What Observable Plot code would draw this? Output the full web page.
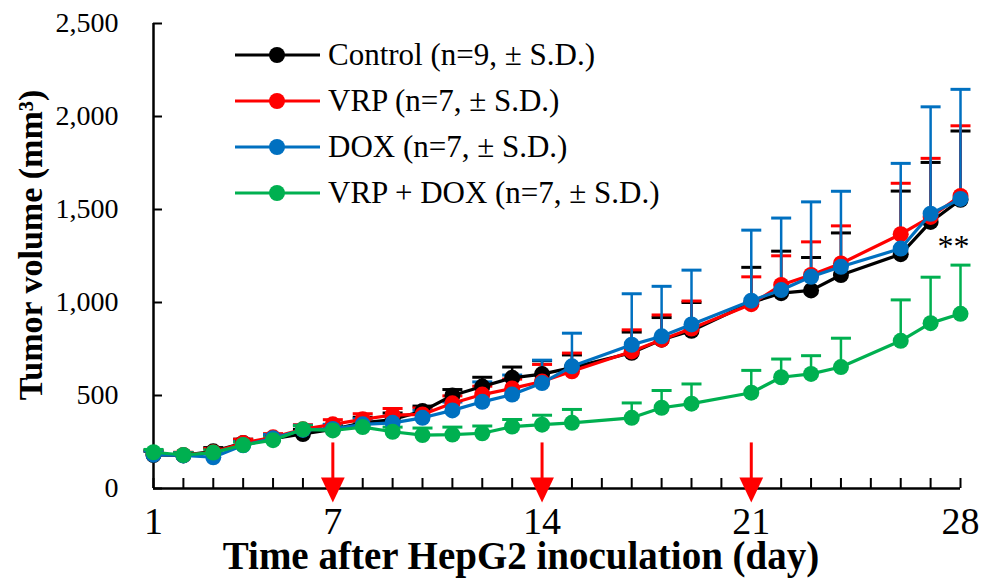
<!DOCTYPE html>
<html><head><meta charset="utf-8">
<script src="https://cdn.jsdelivr.net/npm/d3@7"></script>
<script src="https://cdn.jsdelivr.net/npm/@observablehq/plot@0.6"></script>
<style>
body{margin:0;background:#fff;}
#wrap{position:relative;width:984px;height:578px;font-family:"Liberation Serif","Times New Roman",serif;}
.row{position:absolute;left:235px;display:flex;align-items:center;white-space:nowrap;font-size:31px;height:40px;color:#000;}
.row svg{margin-right:7px;}
</style></head><body><div id="wrap"></div>
<script>
const days = [1,2,3,4,5,6,7,8,9,10,11,12,13,14,15,17,18,19,21,22,23,24,26,27,28];
const seriesNames = ["Control (n=9, ± S.D.)","VRP (n=7, ± S.D.)","DOX (n=7, ± S.D.)","VRP + DOX (n=7, ± S.D.)"];
const seriesColors = ["#000000","#FF0000","#0070C0","#00B050"];
const controlMean = [180,178,200,245,268,293,318,353,371,416,500,548,595,615,650,730,800,848,1000,1050,1065,1148,1260,1433,1552];
const controlSD   = [20,15,20,20,20,25,25,30,35,27,32,50,58,72,68,111,119,152,189,226,177,226,339,320,370];
const vrpMean = [185,180,195,245,275,318,345,372,395,398,458,505,538,575,630,737,800,860,991,1094,1148,1210,1367,1460,1573];
const vrpSD   = [20,15,20,20,20,25,25,30,35,35,40,45,50,92,98,116,133,148,147,157,178,202,274,315,377];
const doxMean = [182,178,168,232,270,315,320,345,353,380,420,466,505,567,657,773,818,882,1010,1067,1138,1192,1290,1477,1557];
const doxSD   = [20,15,20,20,20,25,25,30,35,40,45,107,105,123,178,274,269,292,379,387,403,406,458,575,589];
const comboMean = [195,180,193,234,260,318,312,330,305,287,290,297,333,343,353,380,434,456,515,598,616,653,794,889,939];
const comboSD   = [15,12,15,15,15,20,20,20,25,38,40,39,38,51,72,80,93,106,120,98,98,155,220,247,262];
const dayTicks = [1,2,3,4,5,6,7,8,9,10,11,12,13,14,15,16,17,18,19,20,21,22,23,24,25,26,27,28];
const dayLabels = [1,7,14,21,28];
const yTicks = [0,500,1000,1500,2000,2500];
const doseDays = [7,14,21];
const arrowFrom = 245;
const signif = [{day: 28, value: 1300, label: "**"}];
const xTitle = "Time after HepG2 inoculation (day)";
const yTitle = "Tumor volume (mm³)";

const means = [controlMean, vrpMean, doxMean, comboMean];
const sds = [controlSD, vrpSD, doxSD, comboSD];
const table = seriesNames.flatMap((s, k) => days.map((d, i) => ({series: s, color: seriesColors[k], day: d, mean: means[k][i], top: means[k][i] + sds[k][i]})));

const capSymbol = {draw(ctx, size){const r = Math.sqrt(size/Math.PI); ctx.moveTo(-r,0); ctx.lineTo(r,0);}};
const headSymbol = {draw(ctx, size){const r = Math.sqrt(size/Math.PI); ctx.moveTo(-r*0.95,-r); ctx.lineTo(r*0.95,-r); ctx.lineTo(0,r); ctx.closePath();}};

const marks = [];
for (const s of seriesNames) {
  const d = table.filter(r => r.series === s);
  marks.push(Plot.ruleX(d, {x: "day", y1: "mean", y2: "top", stroke: "color", strokeWidth: 2.5}));
  marks.push(Plot.dot(d, {x: "day", y: "top", symbol: capSymbol, r: 10, stroke: "color", fill: "none", strokeWidth: 3}));
}
for (const s of seriesNames) {
  const d = table.filter(r => r.series === s);
  marks.push(Plot.line(d, {x: "day", y: "mean", stroke: "color", strokeWidth: 3.2}));
  marks.push(Plot.dot(d, {x: "day", y: "mean", fill: "color", r: 8}));
}

const chart = Plot.plot({
  width: 984, height: 578,
  marginLeft: 153, marginRight: 24, marginTop: 23, marginBottom: 90,
  style: {fontFamily: "Liberation Serif, Times New Roman, serif", color: "#000", background: "#fff", overflow: "visible"},
  x: {domain: [1, 28], label: null},
  y: {domain: [0, 2500], label: null},
  color: {type: "identity"},
  marks: [
    Plot.ruleY([0], {stroke: "#000", strokeWidth: 2.5}),
    Plot.ruleX([1], {stroke: "#000", strokeWidth: 2.5}),
    Plot.axisX({ticks: dayTicks, tickSize: -10, tickFormat: () => "", strokeWidth: 2, label: null}),
    Plot.axisX({ticks: dayLabels, tickSize: 0, tickPadding: 19, fontSize: 38, label: null}),
    Plot.axisY({ticks: yTicks, tickSize: -9, tickFormat: () => "", strokeWidth: 2, label: null}),
    Plot.axisY({ticks: yTicks, tickSize: 0, tickPadding: 35, tickFormat: d3.format(","), fontSize: 28, label: null}),
    ...marks,
    Plot.ruleX(doseDays, {x: d => d, y1: arrowFrom, y2: 0, stroke: "#FF0000", strokeWidth: 3}),
    Plot.dot(doseDays, {x: d => d, y: 0, dy: 1.5, symbol: headSymbol, r: 12.5, fill: "#FF0000", stroke: "none"}),
    Plot.text(signif, {x: "day", y: "value", text: "label", dx: -7, fontSize: 32}),
    Plot.text([xTitle], {frameAnchor: "bottom", textAnchor: "middle", lineAnchor: "middle", dx: -36, dy: 68, fontSize: 39, fontWeight: "bold"}),
    Plot.text([yTitle], {frameAnchor: "left", textAnchor: "middle", lineAnchor: "middle", rotate: -90, dx: -122, dy: -11, fontSize: 34, fontWeight: "bold"})
  ]
});
const wrap = document.getElementById("wrap");
wrap.appendChild(chart);

const rowCenters = [55, 100.7, 146.7, 192.7];
seriesNames.forEach((s, k) => {
  const row = document.createElement("div");
  row.className = "row";
  row.style.top = (rowCenters[k] - 20) + "px";
  const c = seriesColors[k];
  row.innerHTML = `<svg width="86" height="20"><line x1="0" y1="10" x2="85" y2="10" stroke="${c}" stroke-width="3"/><circle cx="42" cy="10" r="8" fill="${c}"/></svg><span>${s}</span>`;
  wrap.appendChild(row);
});
</script></body></html>
